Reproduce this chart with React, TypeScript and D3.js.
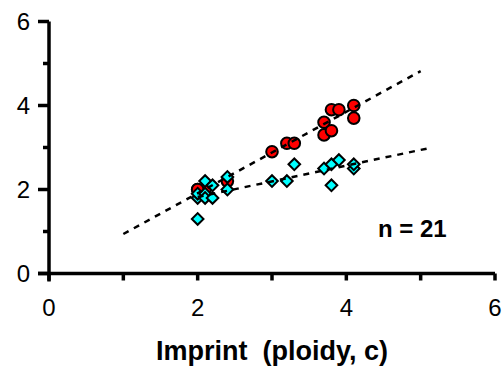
import React, { useEffect, useRef } from 'react';
import * as d3 from 'd3';

// imprint ploidy (x) vs measured value (y)
const redX = [2.0, 2.1, 2.4, 2.0, 3.0, 3.2, 3.3, 3.7, 3.7, 3.8, 3.8, 3.9, 4.1, 4.1];
const redY = [2.0, 2.0, 2.2, 2.0, 2.9, 3.1, 3.1, 3.6, 3.3, 3.4, 3.9, 3.9, 4.0, 3.7];

const cyanX = [2.0, 2.0, 2.0, 2.1, 2.1, 2.1, 2.2, 2.2, 2.4, 2.4, 3.0, 3.2, 3.3, 3.7, 3.8, 3.9, 3.8, 4.1, 4.1];
const cyanY = [1.3, 1.8, 1.9, 2.2, 1.9, 1.8, 2.1, 1.8, 2.3, 2.0, 2.2, 2.2, 2.6, 2.5, 2.6, 2.7, 2.1, 2.5, 2.6];

// fitted trend lines [x1, y1, x2, y2]
const redFit = [1.0, 0.94, 5.0, 4.82];
const cyanFit = [2.0, 1.82, 5.1, 2.98];

const xTicks = [0, 2, 4, 6];
const yTicks = [0, 2, 4, 6];
const minorTicks = [1, 3, 5];

const W = 503;
const H = 367;

const App: React.FC = () => {
  const ref = useRef<SVGSVGElement | null>(null);

  useEffect(() => {
    const svg = d3.select(ref.current);
    svg.selectAll('*').remove();

    const x = d3.scaleLinear().domain([0, 6]).range([49, 495]);
    const y = d3.scaleLinear().domain([0, 6]).range([273.5, 21.5]);
    const font = '"Liberation Sans", Arial, sans-serif';

    // axes
    const ax = svg.append('g').attr('stroke', '#000').attr('stroke-width', 3.5);
    ax.append('line').attr('x1', x(0)).attr('x2', x(0)).attr('y1', y(6)).attr('y2', y(0) + 8);
    ax.append('line').attr('x1', x(0) - 11).attr('x2', x(6)).attr('y1', y(0)).attr('y2', y(0));

    yTicks.concat(minorTicks).forEach(t => {
      ax.append('line')
        .attr('x1', x(0) - (yTicks.includes(t) ? 11 : 6)).attr('x2', x(0))
        .attr('y1', y(t)).attr('y2', y(t));
    });
    xTicks.concat(minorTicks).forEach(t => {
      ax.append('line')
        .attr('x1', x(t)).attr('x2', x(t))
        .attr('y1', y(0)).attr('y2', y(0) + 7);
    });

    svg.selectAll('.ylab').data(yTicks).enter().append('text')
      .attr('x', 30).attr('y', d => y(d)).attr('dy', '0.36em')
      .attr('text-anchor', 'end')
      .style('font-family', font).style('font-size', '24px')
      .text(d => d);

    svg.selectAll('.xlab').data(xTicks).enter().append('text')
      .attr('x', d => x(d)).attr('y', 316)
      .attr('text-anchor', 'middle')
      .style('font-family', font).style('font-size', '24px')
      .text(d => d);

    svg.append('text')
      .attr('x', 272).attr('y', 360)
      .attr('text-anchor', 'middle')
      .style('font-family', font).style('font-size', '27px').style('font-weight', 'bold')
      .style('white-space', 'pre')
      .text('Imprint  (ploidy, c)');

    svg.append('text')
      .attr('x', 378).attr('y', 237)
      .style('font-family', font).style('font-size', '24px').style('font-weight', 'bold')
      .text('n = 21');

    // red circles
    svg.selectAll('.red').data(redX).enter().append('circle')
      .attr('cx', d => x(d)).attr('cy', (d, i) => y(redY[i]))
      .attr('r', 5.8)
      .attr('fill', '#ff0000').attr('stroke', '#000').attr('stroke-width', 2);

    // cyan diamonds
    const diamond = d3.symbol().type(d3.symbolSquare).size(68);
    svg.selectAll('.cyan').data(cyanX).enter().append('path')
      .attr('d', diamond)
      .attr('transform', (d, i) => `translate(${x(d)},${y(cyanY[i])}) rotate(45)`)
      .attr('fill', '#00ffff').attr('stroke', '#000').attr('stroke-width', 2);

    // dashed fit lines
    [redFit, cyanFit].forEach(f => {
      svg.append('line')
        .attr('x1', x(f[0])).attr('y1', y(f[1]))
        .attr('x2', x(f[2])).attr('y2', y(f[3]))
        .attr('stroke', '#000').attr('stroke-width', 2.5)
        .attr('stroke-dasharray', '6,6');
    });
  }, []);

  return (
    <svg ref={ref} width={W} height={H}
      style={{ position: 'absolute', left: 0, top: 0, background: '#fff' }} />
  );
};

export default App;
